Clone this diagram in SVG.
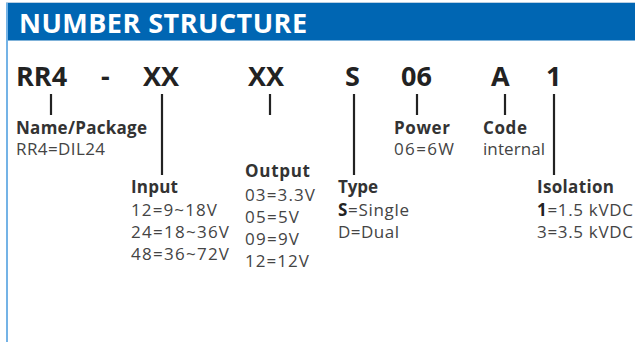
<svg xmlns="http://www.w3.org/2000/svg" width="635" height="342" viewBox="0 0 635 342">
<style>
.code{font-family:"Open Sans","Liberation Sans",sans-serif;font-weight:bold;font-size:27px;fill:#222}
.lbl{font-family:"Open Sans","Liberation Sans",sans-serif;font-weight:bold;font-size:17px;fill:#333}
.val{font-family:"Open Sans","Liberation Sans",sans-serif;font-size:17px;fill:#444}
.b{font-weight:bold;fill:#222}
.ln{stroke:#222;stroke-width:2.2;fill:none}
</style>
<rect x="0" y="0" width="635" height="342" fill="#fff"/>
<line x1="6" y1="2.5" x2="635" y2="2.5" stroke="#b9cfe3" stroke-width="1"/>
<rect x="6" y="3" width="629" height="37.5" fill="#0066b3"/>
<line x1="7" y1="3" x2="7" y2="342" stroke="#74b3e6" stroke-width="2"/>
<text x="19" y="33" font-family="Open Sans, Liberation Sans, sans-serif" font-weight="bold" font-size="27" fill="#fff" textLength="288">NUMBER STRUCTURE</text>
<g id="code">
<text class="code" x="16" y="86">RR4</text>
<text class="code" x="101" y="86">-</text>
<text class="code" x="143" y="86">XX</text>
<text class="code" x="248" y="86">XX</text>
<text class="code" x="345" y="86">S</text>
<text class="code" x="401" y="86">06</text>
<text class="code" x="491" y="86">A</text>
<text class="code" x="546" y="86">1</text>
</g>
<g id="connectors">
<line class="ln" x1="51" y1="94" x2="51" y2="115"/>
<line class="ln" x1="162" y1="94" x2="162" y2="175"/>
<line class="ln" x1="270" y1="94" x2="270" y2="115"/>
<line class="ln" x1="354" y1="94" x2="354" y2="175"/>
<line class="ln" x1="417" y1="94" x2="417" y2="115"/>
<line class="ln" x1="505" y1="94" x2="505" y2="115"/>
<line class="ln" x1="554" y1="94" x2="554" y2="175"/>
</g>
<g id="name">
<text class="lbl" x="16" y="134" textLength="131">Name/Package</text>
<text class="val" x="16" y="155" textLength="89">RR4=DIL24</text>
</g>
<g id="input">
<text class="lbl" x="131" y="193" textLength="47">Input</text>
<text class="val" x="131" y="216" textLength="86">12=9~18V</text>
<text class="val" x="131" y="238" textLength="98">24=18~36V</text>
<text class="val" x="131" y="260" textLength="98">48=36~72V</text>
</g>
<g id="output">
<text class="lbl" x="245" y="177" textLength="65">Output</text>
<text class="val" x="245" y="200.5" textLength="70">03=3.3V</text>
<text class="val" x="245" y="222.5" textLength="54">05=5V</text>
<text class="val" x="245" y="244.5" textLength="54">09=9V</text>
<text class="val" x="245" y="266.5" textLength="64">12=12V</text>
</g>
<g id="type">
<text class="lbl" x="338" y="193" textLength="40">Type</text>
<text class="val" x="338" y="216" textLength="71"><tspan class="b">S</tspan>=Single</text>
<text class="val" x="338" y="238" textLength="61">D=Dual</text>
</g>
<g id="power">
<text class="lbl" x="394" y="134" textLength="56">Power</text>
<text class="val" x="394" y="155" textLength="60">06=6W</text>
</g>
<g id="codeint">
<text class="lbl" x="483" y="134" textLength="44">Code</text>
<text class="val" x="483" y="155" textLength="62">internal</text>
</g>
<g id="isolation">
<text class="lbl" x="537" y="193" textLength="77">Isolation</text>
<text class="val" x="537" y="216" textLength="96"><tspan class="b">1</tspan>=1.5 kVDC</text>
<text class="val" x="537" y="238" textLength="96">3=3.5 kVDC</text>
</g>
</svg>
